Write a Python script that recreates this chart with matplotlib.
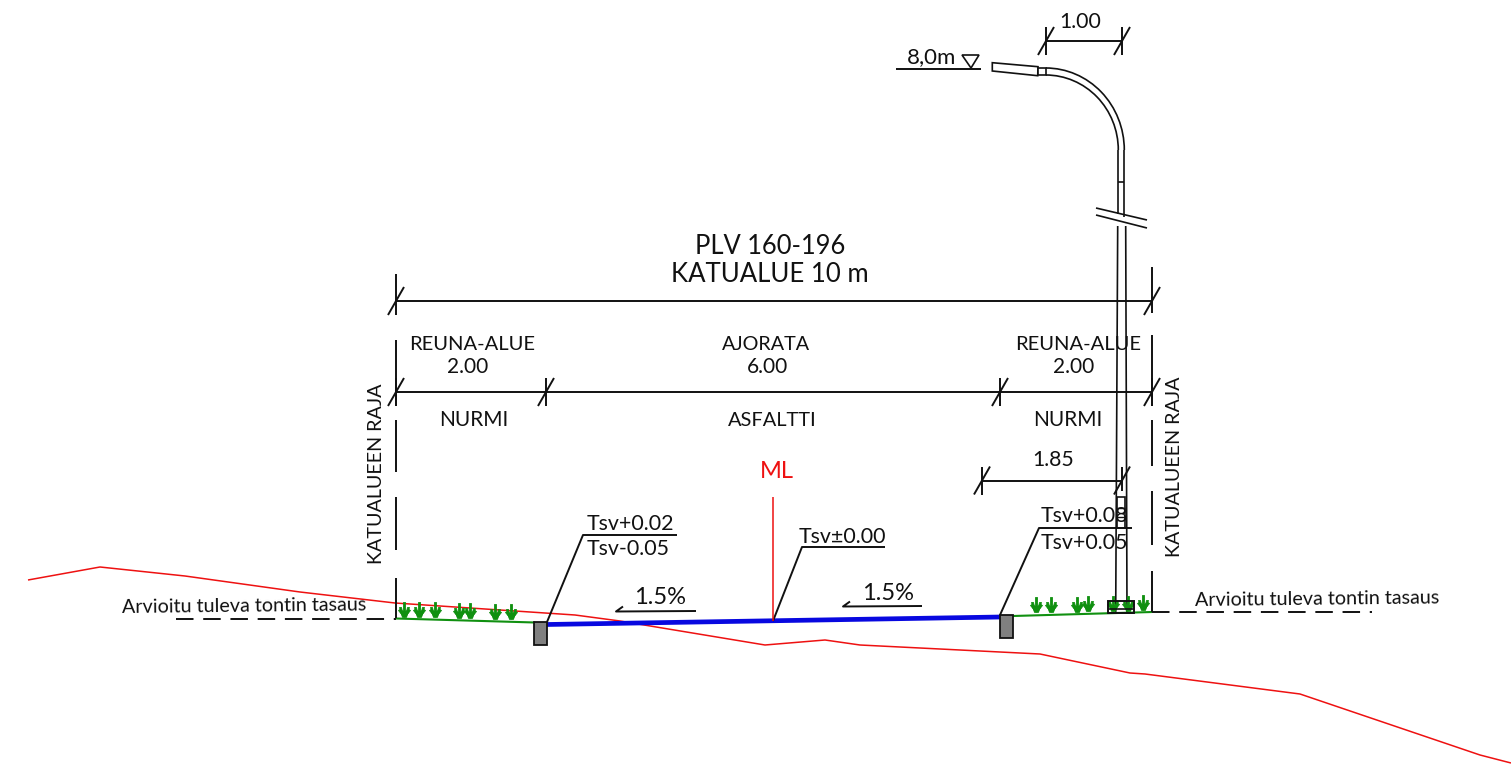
import matplotlib
matplotlib.use("Agg")
import matplotlib.pyplot as plt
from matplotlib.patches import Arc, Rectangle, Polygon
from matplotlib.path import Path

plt.rcParams['font.family'] = ['Lato', 'DejaVu Sans']

# everything in pixels
ground_x = [28, 100, 185, 300, 395, 575, 620, 765, 825, 860, 1040, 1130, 1145, 1300, 1480, 1511]
ground_y = [580, 567, 576, 592, 603, 615, 621, 645, 640, 645, 654, 673, 674, 694, 755, 763]

road_x = [547, 1000]
road_y = [624.5, 617]
verge_left_x = [396, 535]
verge_left_y = [618.5, 622.5]
verge_right_x = [1013, 1152]
verge_right_y = [616, 612]
fill_left_x = [176, 396]
fill_left_y = [618.5, 618.5]
fill_right_x = [1152, 1372]
fill_right_y = [611.5, 611.5]

grass_left_x = [404, 419, 435, 459, 470, 495, 511]
grass_left_y = [618, 618, 618, 619, 619, 620, 620]
grass_right_x = [1036, 1051, 1077, 1088, 1113, 1128, 1143]
grass_right_y = [613, 613, 612.5, 612, 612, 611.5, 611]

# dimension lines: y, x ticks
dim_main_x = [396, 1152]
dim_main_y = 301
dim_sub_x = [396, 546, 1000, 1152]
dim_sub_y = 392
dim_185_x = [982, 1122]
dim_185_y = 480.5
dim_100_x = [1046, 1122]
dim_100_y = 41

boundary_left = [(340, 406), (420, 472), (497, 550), (578, 618)]
boundary_right = [(335, 406), (420, 466), (491, 545), (571, 612)]

fig = plt.figure(figsize=(15.11, 7.76), dpi=100)
ax = fig.add_axes([0, 0, 1, 1])
ax.set_xlim(0, 1511)
ax.set_ylim(776, 0)
ax.axis('off')

BLACK = '#111111'


def line(x, y, lw=1.4, color=BLACK, **kw):
    ax.plot(x, y, color=color, lw=lw, solid_capstyle='butt', **kw)


def label(x, y, s, size=15, color=BLACK, rot=0):
    ax.text(x, y + 2, s, fontsize=size, color=color, rotation=rot, ha='center', va='center')


def dim_tick(x, y, up=14, down=14):
    line([x, x], [y - up, y + down])
    line([x - 8, x + 8], [y + 14, y - 14])


# ground and surfaces
line(ground_x, ground_y, lw=1.1, color='#ee1111')
line(verge_left_x, verge_left_y, lw=1.5, color='#109010')
line(verge_right_x, verge_right_y, lw=1.5, color='#109010')
line(road_x, road_y, lw=3.4, color='#0808e0')
line(fill_left_x, fill_left_y, lw=1.4, ls=(0, (9, 5)))
line(fill_right_x, fill_right_y, lw=1.4, ls=(0, (9, 5)))

# grass tufts as a marker
tuft = Path(
    [(-1, 1), (-1, 16), (1, 16), (1, 1), (-1, 1),
     (-2, 1), (-5, 11), (-3, 11), (-1, 3), (-2, 1),
     (2, 1), (5, 11), (3, 11), (1, 3), (2, 1),
     (-2, 3), (-6, 8), (-4, 9), (-1, 6), (-2, 3),
     (2, 3), (6, 8), (4, 9), (1, 6), (2, 3)],
    ([Path.MOVETO] + [Path.LINETO] * 3 + [Path.CLOSEPOLY]) * 5)
for gx, gy in [(grass_left_x, grass_left_y), (grass_right_x, grass_right_y)]:
    ax.scatter(gx, gy, marker=tuft, s=530, facecolors='#109010', edgecolors='#109010', linewidths=0.6, zorder=3)

# curbs
ax.add_patch(Rectangle((534, 622), 13, 23, fc='#808080', ec=BLACK, lw=1.3, zorder=4))
ax.add_patch(Rectangle((1000, 615), 13, 23, fc='#808080', ec=BLACK, lw=1.3, zorder=4))

# dimension lines
line(dim_main_x, [dim_main_y] * 2)
dim_tick(396, dim_main_y, 27, 14)
dim_tick(1152, dim_main_y, 34, 12)
line(dim_sub_x[::3], [dim_sub_y] * 2)
for x in dim_sub_x:
    dim_tick(x, dim_sub_y)
line(dim_185_x, [dim_185_y] * 2)
dim_tick(982, dim_185_y)
dim_tick(1122, dim_185_y, 14, 10)
line(dim_100_x, [dim_100_y] * 2)
dim_tick(1046, dim_100_y)
dim_tick(1122, dim_100_y)

for a, b in boundary_left:
    line([396, 396], [a, b])
for a, b in boundary_right:
    line([1152, 1152], [a, b])

# lamp post
line([1115.7, 1117.7], [612, 226], lw=1.2)
line([1127, 1125.7], [612, 226], lw=1.2)
line([1118.3, 1118.3], [150, 214], lw=1.2)
line([1124.3, 1124.3], [150, 217], lw=1.2)
line([1118.3, 1124.3], [182, 182], lw=1.2)
line([1096, 1147], [208, 220], lw=1.2)
line([1096, 1147], [215, 228], lw=1.2)
ax.add_patch(Arc((1045.7, 150), 157.2, 164, theta1=270, theta2=360, ec=BLACK, lw=1.2))
ax.add_patch(Arc((1045.7, 150), 145.2, 150, theta1=270, theta2=360, ec=BLACK, lw=1.2))
ax.add_patch(Polygon([(992.3, 62.7), (1038, 66.7), (1037.7, 75.7), (992.3, 71)], closed=True, fc='white', ec=BLACK, lw=1.2))
ax.add_patch(Rectangle((1038, 68), 8, 7, fc='white', ec=BLACK, lw=1.2))
ax.add_patch(Rectangle((1117, 497), 8, 31, fc='none', ec=BLACK, lw=1.2))
line([1117, 1125], [508, 508], lw=1.0)
line([1117, 1125], [517, 517], lw=1.0)
ax.add_patch(Rectangle((1108, 601), 26, 12, fc='none', ec=BLACK, lw=1.4, zorder=4))
line([1108, 1134], [609, 609], lw=1.2, zorder=4)

# height mark
line([896, 981], [69, 69])
ax.add_patch(Polygon([(962, 55), (979, 55), (971, 68)], closed=True, fc='none', ec=BLACK, lw=1.2))

# leaders
line([547, 583, 677], [622, 535, 535])
line([773, 802, 885], [621, 547, 547])
line([1000, 1039, 1132], [615, 528, 528])
line([773, 773], [497, 621], lw=1.1, color='#ee1111')

# slope arrows
line([696, 616, 623], [611, 611.5, 606.5])
line([922, 843, 850], [606, 606.5, 601.5])

# texts
label(770, 244, 'PLV 160-196', 18.4)
label(770, 272, 'KATUALUE 10 m', 18.5)
label(472, 342, 'REUNA-ALUE', 14.5)
label(468, 365, '2.00', 15)
label(766, 342, 'AJORATA', 14.2)
label(768, 365, '6.00', 15)
label(1078, 342, 'REUNA-ALUE', 14.5)
label(1074, 365, '2.00', 15)
label(474, 418, 'NURMI', 15)
label(772, 418, 'ASFALTTI', 14.4)
label(1068, 418, 'NURMI', 15)
label(376, 472, 'KATUALUEEN RAJA', 14.2, rot=90)
label(1173, 465, 'KATUALUEEN RAJA', 14.2, rot=90)
ax.texts[-1].set_x(1174)
ax.texts[-2].set_x(377)
label(1053, 458, '1.85', 15.3)
label(1080, 20, '1.00', 15.3)
label(932, 55, '8,0m', 16)
label(630, 522, 'Tsv+0.02', 15.4)
label(628, 547, 'Tsv-0.05', 15.4)
label(842, 535, 'Tsv\u00b10.00', 15.4)
label(1084, 514, 'Tsv+0.08', 15.4)
label(1084, 541, 'Tsv+0.05', 15.4)
label(660, 595, '1.5%', 17)
label(888, 591, '1.5%', 17)
label(777, 470, 'ML', 17, color='#ee1111')
label(244, 604, 'Arvioitu tuleva tontin tasaus', 14.2, rot=0.6)
label(1317, 597, 'Arvioitu tuleva tontin tasaus', 14.2, rot=0.6)

fig.savefig('out.png', dpi=100)
